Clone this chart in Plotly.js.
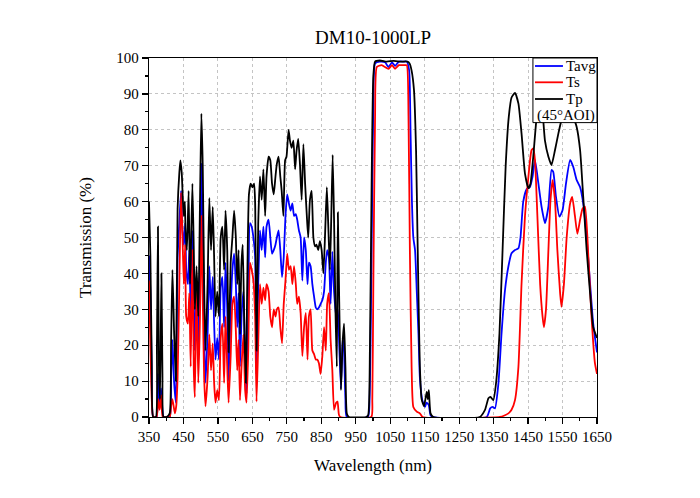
<!DOCTYPE html>
<html>
<head>
<meta charset="utf-8">
<script src="https://cdn.plot.ly/plotly-3.0.1.min.js"></script>
<style>
  html, body { margin: 0; padding: 0; background: #fff; }
  #lineChart { width: 700px; height: 498px; }
</style>
</head>
<body>
<div id="lineChart"></div>
<script>
// values (45 deg AOI)
var wlTavg = [350,354,358,362,372,376,380,385,389,392,
  410,414,418,423,428,433,438,443,447,451,
  455,458,463,467,471,476,480,483,488,493,
  498,502,506,510,514,520,525,530,535,539,
  543,548,553,558,563,568,572,577,581,587,
  592,597,602,606,610,614,619,624,629,633,
  638,643,648,653,658,662,667,672,677,682,
  687,691,697,702,707,712,717,721,726,731,
  736,741,746,751,756,761,766,771,776,780,
  785,790,795,800,805,810,814,819,824,829,
  834,838,843,848,853,858,863,867,872,877,
  882,887,893,898,902,907,912,916,920,924,
  985,989,996,1001,1006,1020,1035,1045,1055,1064,
  1075,1090,1098,1105,1109,1113,1117,1122,1127,1132,
  1136,1143,1151,1155,1158,1162,1167,1175,1330,1340,
  1347,1354,1364,1373,1383,1393,1402,1412,1422,1428,
  1436,1446,1455,1463,1470,1480,1489,1499,1509,1518,
  1523,1531,1541,1550,1560,1572,1581,1591,1601,1610,
  1620,1630,1639,1650];
var tavg = [45,35,12,0,0,12,4,8,2,0,
  0,10,21.5,9.5,4,44.5,54,63,52,48,
  54,41,37,46.5,28,52,30,18.5,39,18.5,
  42,70.5,51,23,9.5,23,42,30,39,26,
  16,22,16,36,39,25,43,30,10,30,
  41,45.5,37,25,34.5,14,29,35,15,6.5,
  28,54,53,50,44.5,12,37,52,46.5,53,
  44.5,53,55,50,45.5,46.5,48,50,52,46.5,
  39,44.5,56,62,59.5,57.5,59.5,56,56.5,55,
  52,50,38,50,46.5,37,43,42,37,33.5,
  30.5,30,30.5,31.5,32.5,35,43,46.5,44.5,31.5,
  46,35,28,30,20,8,22,18,5,0,
  0,2,46.5,88,98.5,99,98.8,97.5,98.8,97.8,
  99,99,99,96.5,79,60,50,46.5,35,23,
  11,4.7,2.8,4,3.8,3.3,0.5,0,0,2.4,
  2.8,2.4,9.4,23.3,35.3,42,45.6,46.5,47,50,
  60,63.5,64,67,71.6,65,58.6,54,58.6,68.8,
  68.3,61.3,55.8,57.6,65,71.6,69.7,66,64,59.5,
  50,37,26,18];

var wlTs = [350,354,358,362,372,377,381,386,390,410,
  414,418,425,429,433,438,443,447,451,455,
  458,463,467,471,476,480,483,488,493,498,
  502,506,510,514,520,525,530,535,539,543,
  548,553,558,563,568,572,577,581,587,592,
  597,602,606,610,614,619,624,629,633,638,
  643,648,653,658,662,667,672,677,682,687,
  691,697,702,707,712,717,721,726,731,736,
  741,746,751,756,761,766,771,776,780,785,
  790,795,800,805,810,814,819,824,829,834,
  838,843,848,853,858,863,867,872,877,882,
  887,893,897,901,905,995,998,1001,1006,1011,
  1025,1045,1055,1064,1075,1090,1098,1103,1107,1112,
  1117,1127,1136,1144,1368,1383,1393,1402,1412,1422,
  1431,1441,1451,1460,1465,1470,1477,1485,1492,1496,
  1502,1509,1515,1521,1528,1535,1543,1547,1554,1562,
  1572,1578,1586,1593,1601,1608,1615,1625,1634,1644,
  1650];
var ts = [38,20,5,0,0,5,2,6,0,0,
  3,5,1,3,11,37,62.5,51,37,48,
  28,26,34.5,14,46.5,13,5.5,37,9.5,28,
  56,32.5,11,3,11,23,13,20.5,9.5,4,
  7.5,4.7,22,26,9.5,28,14,4,17,31.5,
  33.5,24,13,21.5,4.7,15,23,7.5,4,18.5,
  43,41,38,28,4.3,20.5,37,31.5,36,32.5,
  37,35,28,25,30,28,30,30.5,25,20.5,
  31.5,38,45.5,41,42,37,42,37,31.5,33.5,
  29,17,25,29,16,28,30,18.5,17.5,16,
  16,15,12,17,25,18.5,31.5,34.5,21.5,13,
  2,4,4.3,0.7,0,0,5,37,83.6,97.5,
  98,97,98,97,98,98,98,83.6,46.5,14,
  2.8,1.5,1,0,0,0.5,1,2,4.7,14,
  37,56,67,74.3,74.8,71.6,56,37,28,25,
  30,46.5,60.4,66,60.4,46.5,34.4,30.7,37,50,
  59.5,61.3,56,51,55,58,58.6,44.6,28,15,
  12];

var wlTp = [350,354,358,362,370,373,376,379,382,386,
  389,392,401,410,414,418,423,428,433,438,
  441,445,448,451,454,456,460,465,469,472,
  476,480,483,488,493,498,502,506,510,514,
  520,525,530,535,539,543,548,553,558,563,
  568,572,577,581,587,592,597,602,606,610,
  614,618,622,627,631,635,640,645,650,655,
  658,662,667,672,677,682,687,691,697,702,
  707,712,717,721,726,731,735,740,745,749,
  755,759,764,769,774,778,783,788,793,798,
  803,808,812,817,822,827,832,836,841,846,
  851,856,861,866,870,875,879,883,887,891,
  895,898,902,907,912,916,920,924,930,980,
  986,991,996,1001,1006,1020,1040,1060,1080,1100,
  1106,1112,1119,1125,1129,1133,1136,1141,1148,1153,
  1156,1159,1162,1167,1175,1310,1325,1335,1341,1349,
  1357,1367,1376,1385,1394,1402,1412,1422,1431,1441,
  1451,1457,1465,1475,1485,1492,1499,1509,1518,1528,
  1538,1547,1557,1570,1581,1591,1601,1610,1620,1630,
  1639,1650];
var tp = [60,45,15,0,0,20,53,12,5,40,
  12,0,0,1,20,41,23,10,58,68,
  71.5,68,61,56,60,52,46.5,63,37,48,
  65,46.5,30,42,28,60,84.5,69.5,37,18.5,
  37,61,46.5,58.5,44.5,28,35,28,50,53,
  41,57.5,46.5,18,43,50,57.5,50,37,46.5,
  23,42,48,23,9.5,37,62,65,64,65,
  59.5,18.5,54,67,60.5,69,56,67,72.5,71.5,
  65,62,67,70.5,72.5,67,63,56,71.5,72.5,
  80,77,75,77,69,74,77.5,70.5,60.5,76,
  65,56,50,60.5,63,50,47.5,48,46.5,49,
  46.5,40,51,64,54,41,56,73,55,30,
  14,57,32,7.5,21,26,14,1,0,0,
  0.5,18.6,65,95,99,99.3,99,99.2,99,99,
  98.5,96.5,91,74,51,28,14,5,3,5.5,
  7,5,7.5,1,0,0,2,5.2,5.6,4.7,
  9.4,23.3,46.5,70,83.6,89,90.3,87.3,79,67.8,
  63.7,65,72.5,83.6,89,85,77,72.5,70.2,74.3,
  79,82.7,85,86,83.6,80.8,74.3,61.3,46.5,34.4,
  25,22];

var xTicks = [350,450,550,650,750,850,950,1050,1150,1250,1350,1450,1550,1650];
var seriesNames = ['Tavg', 'Ts', 'Tp'];
var seriesColors = ['#0000ff', '#ff0000', '#000000'];
var aoiNote = '(45°AOI)';

var serif = 'Liberation Serif, Times New Roman, serif';

function makeTrace(x, y, i) {
  return {
    x: x,
    y: y,
    mode: 'lines',
    name: seriesNames[i],
    line: { color: seriesColors[i], width: 1.8, shape: 'spline', smoothing: 0.5 },
    hoverinfo: 'x+y+name'
  };
}

var data = [
  makeTrace(wlTavg, tavg, 0),
  makeTrace(wlTs, ts, 1),
  makeTrace(wlTp, tp, 2)
];

// legend box drawn by hand (Origin-style, tighter rows than plotly's legend)
var boxX0 = 0.857, rowY = [0.9777, 0.9323, 0.8858];
var shapes = [{
  type: 'rect', xref: 'paper', yref: 'paper',
  x0: boxX0, x1: 1, y0: 0.82, y1: 1,
  fillcolor: '#ffffff', line: { color: '#000', width: 1 },
  layer: 'above'
}];
var annotations = [];
seriesNames.forEach(function (name, i) {
  shapes.push({
    type: 'line', xref: 'paper', yref: 'paper',
    x0: 0.8616, x1: 0.924, y0: rowY[i], y1: rowY[i],
    line: { color: seriesColors[i], width: 1.8 },
    layer: 'above'
  });
  annotations.push({
    text: name, xref: 'paper', yref: 'paper',
    x: 0.927, y: rowY[i], xanchor: 'left', yanchor: 'middle',
    showarrow: false, font: { family: serif, size: 15, color: '#000' }
  });
});
annotations.push({
  text: aoiNote, xref: 'paper', yref: 'paper',
  x: 0.8605, y: 0.8412, xanchor: 'left', yanchor: 'middle',
  showarrow: false, font: { family: serif, size: 15, color: '#000' }
});

var layout = {
  width: 700,
  height: 498,
  margin: { l: 149, r: 103, t: 58, b: 81 },
  paper_bgcolor: '#ffffff',
  plot_bgcolor: '#ffffff',
  font: { family: serif, color: '#000000', size: 15 },
  showlegend: false,
  title: {
    text: 'DM10-1000LP',
    font: { family: serif, size: 19, color: '#000' },
    x: 0.533, xanchor: 'center',
    y: 0.924, yref: 'container', yanchor: 'middle'
  },
  xaxis: {
    range: [350, 1650],
    tickvals: xTicks,
    ticktext: xTicks.map(String),
    ticks: 'outside', ticklen: 6, tickwidth: 1.2, tickcolor: '#000',
    minor: { dtick: 50, tick0: 350, ticks: 'outside', ticklen: 3, tickcolor: '#000', showgrid: false },
    showline: true, linecolor: '#000', linewidth: 1.3, mirror: true,
    showgrid: true, gridcolor: '#c4c4c4', griddash: 'dot', gridwidth: 1,
    zeroline: false,
    tickfont: { family: serif, size: 15 },
    title: { text: 'Wavelength (nm)', font: { family: serif, size: 17 }, standoff: 14 }
  },
  yaxis: {
    range: [0, 100],
    dtick: 10,
    ticks: 'outside', ticklen: 6, tickwidth: 1.2, tickcolor: '#000',
    minor: { dtick: 5, ticks: 'outside', ticklen: 3, tickcolor: '#000', showgrid: false },
    showline: true, linecolor: '#000', linewidth: 1.3, mirror: true,
    showgrid: true, gridcolor: '#c4c4c4', griddash: 'dot', gridwidth: 1,
    zeroline: false,
    tickfont: { family: serif, size: 15 },
    title: { text: 'Transmission (%)', font: { family: serif, size: 17 }, standoff: 20 }
  },
  shapes: shapes,
  annotations: annotations
};

Plotly.newPlot('lineChart', data, layout, { displayModeBar: false, staticPlot: true });
</script>
</body>
</html>
